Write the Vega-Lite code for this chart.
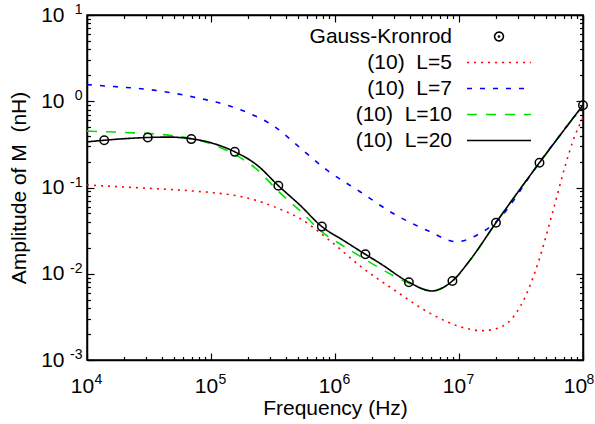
{
  "$schema": "https://vega.github.io/schema/vega-lite/v6.json",
  "width": 496,
  "height": 345,
  "autosize": "none",
  "padding": {"left": 87, "top": 15, "right": 12, "bottom": 64},
  "background": "white",
  "config": {
    "font": "Liberation Sans",
    "view": {"stroke": "black", "strokeWidth": 1.5},
    "axis": {
      "grid": false,
      "domainColor": "black",
      "domainWidth": 1.5,
      "tickColor": "black",
      "tickWidth": 1.2,
      "labelColor": "black",
      "titleColor": "black",
      "labelFont": "Liberation Sans",
      "titleFont": "Liberation Sans",
      "labelFontSize": 21,
      "titleFontSize": 21,
      "titleFontWeight": "normal",
      "labelOverlap": false,
      "labelFlush": false,
      "labelBound": false
    },
    "legend": {
      "title": null,
      "orient": "none",
      "legendX": 401.5,
      "legendY": 11,
      "padding": 0,
      "labelFontSize": 21,
      "labelFont": "Liberation Sans",
      "labelColor": "black",
      "labelAlign": "right",
      "labelOffset": -57.5,
      "labelLimit": 300,
      "symbolSize": 256,
      "symbolStrokeWidth": 1.6,
      "rowPadding": 4
    }
  },
  "datasets": {
    "curves": [
      {"series": "(10)\u00a0\u00a0L=5", "f": 10000, "A": 0.107},
      {"series": "(10)\u00a0\u00a0L=5", "f": 23600, "A": 0.1},
      {"series": "(10)\u00a0\u00a0L=5", "f": 70600, "A": 0.0912},
      {"series": "(10)\u00a0\u00a0L=5", "f": 103800, "A": 0.0871},
      {"series": "(10)\u00a0\u00a0L=5", "f": 194000, "A": 0.0759},
      {"series": "(10)\u00a0\u00a0L=5", "f": 359700, "A": 0.0562},
      {"series": "(10)\u00a0\u00a0L=5", "f": 522400, "A": 0.0437},
      {"series": "(10)\u00a0\u00a0L=5", "f": 883000, "A": 0.0251},
      {"series": "(10)\u00a0\u00a0L=5", "f": 1641000, "A": 0.0119},
      {"series": "(10)\u00a0\u00a0L=5", "f": 3048000, "A": 0.0064},
      {"series": "(10)\u00a0\u00a0L=5", "f": 5649000, "A": 0.00358},
      {"series": "(10)\u00a0\u00a0L=5", "f": 10520000, "A": 0.0024},
      {"series": "(10)\u00a0\u00a0L=5", "f": 15240000, "A": 0.00219},
      {"series": "(10)\u00a0\u00a0L=5", "f": 18920000, "A": 0.00226},
      {"series": "(10)\u00a0\u00a0L=5", "f": 27420000, "A": 0.00316},
      {"series": "(10)\u00a0\u00a0L=5", "f": 35160000, "A": 0.0059},
      {"series": "(10)\u00a0\u00a0L=5", "f": 44980000, "A": 0.0157},
      {"series": "(10)\u00a0\u00a0L=5", "f": 57540000, "A": 0.0548},
      {"series": "(10)\u00a0\u00a0L=5", "f": 71610000, "A": 0.175},
      {"series": "(10)\u00a0\u00a0L=5", "f": 83560000, "A": 0.356},
      {"series": "(10)\u00a0\u00a0L=5", "f": 100000000, "A": 0.646},

      {"series": "(10)\u00a0\u00a0L=7", "f": 10000, "A": 1.56},
      {"series": "(10)\u00a0\u00a0L=7", "f": 12735, "A": 1.52},
      {"series": "(10)\u00a0\u00a0L=7", "f": 36475, "A": 1.33},
      {"series": "(10)\u00a0\u00a0L=7", "f": 71945, "A": 1.12},
      {"series": "(10)\u00a0\u00a0L=7", "f": 171396, "A": 0.8},
      {"series": "(10)\u00a0\u00a0L=7", "f": 338844, "A": 0.488},
      {"series": "(10)\u00a0\u00a0L=7", "f": 490908, "A": 0.312},
      {"series": "(10)\u00a0\u00a0L=7", "f": 857038, "A": 0.16},
      {"series": "(10)\u00a0\u00a0L=7", "f": 1592209, "A": 0.0893},
      {"series": "(10)\u00a0\u00a0L=7", "f": 2951209, "A": 0.05},
      {"series": "(10)\u00a0\u00a0L=7", "f": 5495409, "A": 0.032},
      {"series": "(10)\u00a0\u00a0L=7", "f": 9594006, "A": 0.0235},
      {"series": "(10)\u00a0\u00a0L=7", "f": 13899526, "A": 0.028},
      {"series": "(10)\u00a0\u00a0L=7", "f": 17782794, "A": 0.035},
      {"series": "(10)\u00a0\u00a0L=7", "f": 19860949, "A": 0.04},
      {"series": "(10)\u00a0\u00a0L=7", "f": 44565624, "A": 0.196},
      {"series": "(10)\u00a0\u00a0L=7", "f": 100000000, "A": 0.9},

      {"series": "(10)\u00a0\u00a0L=10", "f": 10000, "A": 0.45},
      {"series": "(10)\u00a0\u00a0L=10", "f": 20000, "A": 0.435},
      {"series": "(10)\u00a0\u00a0L=10", "f": 46774, "A": 0.402},
      {"series": "(10)\u00a0\u00a0L=10", "f": 69343, "A": 0.369},
      {"series": "(10)\u00a0\u00a0L=10", "f": 100000, "A": 0.32},
      {"series": "(10)\u00a0\u00a0L=10", "f": 155597, "A": 0.2415},
      {"series": "(10)\u00a0\u00a0L=10", "f": 235000, "A": 0.162},
      {"series": "(10)\u00a0\u00a0L=10", "f": 349140, "A": 0.0904},
      {"series": "(10)\u00a0\u00a0L=10", "f": 522000, "A": 0.0537},
      {"series": "(10)\u00a0\u00a0L=10", "f": 783430, "A": 0.0305},
      {"series": "(10)\u00a0\u00a0L=10", "f": 1183000, "A": 0.0208},
      {"series": "(10)\u00a0\u00a0L=10", "f": 1757924, "A": 0.0146},
      {"series": "(10)\u00a0\u00a0L=10", "f": 2307000, "A": 0.0116},
      {"series": "(10)\u00a0\u00a0L=10", "f": 3944573, "A": 0.00776},
      {"series": "(10)\u00a0\u00a0L=10", "f": 6025000, "A": 0.0064},
      {"series": "(10)\u00a0\u00a0L=10", "f": 8851156, "A": 0.0082},
      {"series": "(10)\u00a0\u00a0L=10", "f": 12270000, "A": 0.0143},
      {"series": "(10)\u00a0\u00a0L=10", "f": 19860949, "A": 0.039},
      {"series": "(10)\u00a0\u00a0L=10", "f": 44565624, "A": 0.194},
      {"series": "(10)\u00a0\u00a0L=10", "f": 100000000, "A": 0.9},

      {"series": "(10)\u00a0\u00a0L=20", "f": 10000, "A": 0.338},
      {"series": "(10)\u00a0\u00a0L=20", "f": 13772, "A": 0.353},
      {"series": "(10)\u00a0\u00a0L=20", "f": 20000, "A": 0.368},
      {"series": "(10)\u00a0\u00a0L=20", "f": 30903, "A": 0.38},
      {"series": "(10)\u00a0\u00a0L=20", "f": 46774, "A": 0.384},
      {"series": "(10)\u00a0\u00a0L=20", "f": 69343, "A": 0.367},
      {"series": "(10)\u00a0\u00a0L=20", "f": 100000, "A": 0.33},
      {"series": "(10)\u00a0\u00a0L=20", "f": 155597, "A": 0.259},
      {"series": "(10)\u00a0\u00a0L=20", "f": 235000, "A": 0.182},
      {"series": "(10)\u00a0\u00a0L=20", "f": 349140, "A": 0.105},
      {"series": "(10)\u00a0\u00a0L=20", "f": 522000, "A": 0.0624},
      {"series": "(10)\u00a0\u00a0L=20", "f": 783430, "A": 0.0352},
      {"series": "(10)\u00a0\u00a0L=20", "f": 1183000, "A": 0.0241},
      {"series": "(10)\u00a0\u00a0L=20", "f": 1757924, "A": 0.0168},
      {"series": "(10)\u00a0\u00a0L=20", "f": 2307000, "A": 0.0132},
      {"series": "(10)\u00a0\u00a0L=20", "f": 3944573, "A": 0.00798},
      {"series": "(10)\u00a0\u00a0L=20", "f": 6025000, "A": 0.00632},
      {"series": "(10)\u00a0\u00a0L=20", "f": 8851156, "A": 0.00826},
      {"series": "(10)\u00a0\u00a0L=20", "f": 12270000, "A": 0.0144},
      {"series": "(10)\u00a0\u00a0L=20", "f": 19860949, "A": 0.039},
      {"series": "(10)\u00a0\u00a0L=20", "f": 44565624, "A": 0.194},
      {"series": "(10)\u00a0\u00a0L=20", "f": 100000000, "A": 0.9}
    ],
    "gk": [
      {"f": 13772, "A": 0.353},
      {"f": 30903, "A": 0.38},
      {"f": 69343, "A": 0.364},
      {"f": 155597, "A": 0.259},
      {"f": 349140, "A": 0.105},
      {"f": 783430, "A": 0.0352},
      {"f": 1757924, "A": 0.0168},
      {"f": 3944573, "A": 0.00798},
      {"f": 8851156, "A": 0.00826},
      {"f": 19860949, "A": 0.039},
      {"f": 44565624, "A": 0.194},
      {"f": 100000000, "A": 0.9}
    ]
  },
  "layer": [
    {
      "data": {"name": "curves"},
      "transform": [{"filter": {"field": "series", "oneOf": ["(10)\u00a0\u00a0L=5", "(10)\u00a0\u00a0L=7"]}}],
      "mark": {"type": "line", "strokeWidth": 1.6, "interpolate": "monotone"},
      "encoding": {
        "x": {
          "field": "f", "type": "quantitative",
          "scale": {"type": "log", "domain": [10000, 100000000], "nice": false},
          "axis": {
            "orient": "bottom",
            "title": "Frequency (Hz)",
            "values": [10000,20000,30000,40000,50000,60000,70000,80000,90000,100000,200000,300000,400000,500000,600000,700000,800000,900000,1000000,2000000,3000000,4000000,5000000,6000000,7000000,8000000,9000000,10000000,20000000,30000000,40000000,50000000,60000000,70000000,80000000,90000000,100000000],
            "labelExpr": "abs(log(datum.value)/LN10 - round(log(datum.value)/LN10)) < 0.001 ? '10' : ''",
            "tickSize": {"condition": {"test": "abs(log(datum.value)/LN10 - round(log(datum.value)/LN10)) < 0.001", "value": -7}, "value": -3.5},
            "labelPadding": 22,
            "labelOffset": {"condition": {"test": "datum.value >= 99999999", "value": -8}, "value": -5},
            "titlePadding": -2
          }
        },
        "y": {
          "field": "A", "type": "quantitative",
          "scale": {"type": "log", "domain": [0.001, 10], "nice": false},
          "axis": {
            "orient": "left",
            "title": "Amplitude of M\u00a0\u00a0(nH)",
            "values": [0.001,0.002,0.003,0.004,0.005,0.006,0.007,0.008,0.009,0.01,0.02,0.03,0.04,0.05,0.06,0.07,0.08,0.09,0.1,0.2,0.3,0.4,0.5,0.6,0.7,0.8,0.9,1,2,3,4,5,6,7,8,9,10],
            "labelExpr": "abs(log(datum.value)/LN10 - round(log(datum.value)/LN10)) < 0.001 ? '10' : ''",
            "tickSize": {"condition": {"test": "abs(log(datum.value)/LN10 - round(log(datum.value)/LN10)) < 0.001", "value": -7}, "value": -3.5},
            "labelPadding": 30,
            "titlePadding": 11
          }
        },
        "color": {
          "field": "series", "type": "nominal",
          "scale": {
            "domain": ["Gauss-Kronrod", "(10)\u00a0\u00a0L=5", "(10)\u00a0\u00a0L=7", "(10)\u00a0\u00a0L=10", "(10)\u00a0\u00a0L=20"],
            "range": ["#000000", "#ff0000", "#0000ff", "#00e000", "#000000"]
          },
          "legend": {
            "encode": {
              "symbols": {
                "update": {
                  "shape": {"signal": "datum.value === 'Gauss-Kronrod' ? 'M-0.55,0A0.55,0.55,0,1,0,0.55,0A0.55,0.55,0,1,0,-0.55,0ZM-0.07,0A0.07,0.07,0,1,0,0.07,0A0.07,0.07,0,1,0,-0.07,0Z' : 'M-4,0L4,0'"},
                  "fill": {"value": "transparent"}
                }
              }
            }
          }
        },
        "strokeDash": {
          "field": "series", "type": "nominal",
          "scale": {
            "domain": ["Gauss-Kronrod", "(10)\u00a0\u00a0L=5", "(10)\u00a0\u00a0L=7", "(10)\u00a0\u00a0L=10", "(10)\u00a0\u00a0L=20"],
            "range": [[1, 0], [2, 5], [5, 8], [10, 9], [1, 0]]
          },
          "legend": {
            "encode": {
              "symbols": {
                "update": {
                  "shape": {"signal": "datum.value === 'Gauss-Kronrod' ? 'M-0.55,0A0.55,0.55,0,1,0,0.55,0A0.55,0.55,0,1,0,-0.55,0ZM-0.07,0A0.07,0.07,0,1,0,0.07,0A0.07,0.07,0,1,0,-0.07,0Z' : 'M-4,0L4,0'"},
                  "fill": {"value": "transparent"}
                }
              }
            }
          }
        }
      }
    },
    {
      "data": {"name": "curves"},
      "transform": [{"filter": {"field": "series", "oneOf": ["(10)\u00a0\u00a0L=10", "(10)\u00a0\u00a0L=20"]}}],
      "mark": {"type": "line", "strokeWidth": 1.6, "interpolate": "monotone"},
      "encoding": {
        "x": {
          "field": "f", "type": "quantitative",
          "scale": {"type": "log", "domain": [10000, 100000000], "nice": false},
          "axis": {
            "orient": "bottom",
            "title": null,
            "domain": false,
            "values": [10000,100000,1000000,10000000,100000000],
            "labelExpr": "['4','5','6','7','8'][round(log(datum.value)/LN10) - 4]",
            "labelFontSize": 14,
            "tickSize": -7,
            "tickOpacity": 0,
            "labelPadding": 19.5,
            "labelOffset": {"condition": {"test": "datum.value >= 99999999", "value": 7}, "value": 11}
          }
        },
        "y": {
          "field": "A", "type": "quantitative",
          "scale": {"type": "log", "domain": [0.001, 10], "nice": false},
          "axis": {
            "orient": "left",
            "title": null,
            "domain": false,
            "values": [0.001,0.01,0.1,1,10],
            "labelExpr": "['-3','-2','-1','0','1'][round(log(datum.value)/LN10) + 3]",
            "labelFontSize": 14,
            "tickSize": -7,
            "tickOpacity": 0,
            "labelPadding": 12,
            "labelOffset": -5.5
          }
        },
        "color": {
          "field": "series", "type": "nominal",
          "scale": {
            "domain": ["Gauss-Kronrod", "(10)\u00a0\u00a0L=5", "(10)\u00a0\u00a0L=7", "(10)\u00a0\u00a0L=10", "(10)\u00a0\u00a0L=20"],
            "range": ["#000000", "#ff0000", "#0000ff", "#00e000", "#000000"]
          },
          "legend": {
            "encode": {
              "symbols": {
                "update": {
                  "shape": {"signal": "datum.value === 'Gauss-Kronrod' ? 'M-0.55,0A0.55,0.55,0,1,0,0.55,0A0.55,0.55,0,1,0,-0.55,0ZM-0.07,0A0.07,0.07,0,1,0,0.07,0A0.07,0.07,0,1,0,-0.07,0Z' : 'M-4,0L4,0'"},
                  "fill": {"value": "transparent"}
                }
              }
            }
          }
        },
        "strokeDash": {
          "field": "series", "type": "nominal",
          "scale": {
            "domain": ["Gauss-Kronrod", "(10)\u00a0\u00a0L=5", "(10)\u00a0\u00a0L=7", "(10)\u00a0\u00a0L=10", "(10)\u00a0\u00a0L=20"],
            "range": [[1, 0], [2, 5], [5, 8], [10, 9], [1, 0]]
          },
          "legend": {
            "encode": {
              "symbols": {
                "update": {
                  "shape": {"signal": "datum.value === 'Gauss-Kronrod' ? 'M-0.55,0A0.55,0.55,0,1,0,0.55,0A0.55,0.55,0,1,0,-0.55,0ZM-0.07,0A0.07,0.07,0,1,0,0.07,0A0.07,0.07,0,1,0,-0.07,0Z' : 'M-4,0L4,0'"},
                  "fill": {"value": "transparent"}
                }
              }
            }
          }
        }
      }
    },
    {
      "data": {"name": "gk"},
      "mark": {"type": "point", "shape": "circle", "filled": false, "size": 72, "strokeWidth": 1.5, "color": "black", "opacity": 1},
      "encoding": {
        "x": {
          "field": "f", "type": "quantitative",
          "scale": {"type": "log", "domain": [10000, 100000000], "nice": false},
          "axis": {
            "orient": "top",
            "title": null,
            "labels": false,
            "values": [10000,20000,30000,40000,50000,60000,70000,80000,90000,100000,200000,300000,400000,500000,600000,700000,800000,900000,1000000,2000000,3000000,4000000,5000000,6000000,7000000,8000000,9000000,10000000,20000000,30000000,40000000,50000000,60000000,70000000,80000000,90000000,100000000],
            "tickSize": {"condition": {"test": "abs(log(datum.value)/LN10 - round(log(datum.value)/LN10)) < 0.001", "value": -7}, "value": -3.5}
          }
        },
        "y": {
          "field": "A", "type": "quantitative",
          "scale": {"type": "log", "domain": [0.001, 10], "nice": false},
          "axis": {
            "orient": "right",
            "title": null,
            "labels": false,
            "values": [0.001,0.002,0.003,0.004,0.005,0.006,0.007,0.008,0.009,0.01,0.02,0.03,0.04,0.05,0.06,0.07,0.08,0.09,0.1,0.2,0.3,0.4,0.5,0.6,0.7,0.8,0.9,1,2,3,4,5,6,7,8,9,10],
            "tickSize": {"condition": {"test": "abs(log(datum.value)/LN10 - round(log(datum.value)/LN10)) < 0.001", "value": -7}, "value": -3.5}
          }
        }
      }
    }
  ],
  "resolve": {"axis": {"x": "independent", "y": "independent"}}
}
